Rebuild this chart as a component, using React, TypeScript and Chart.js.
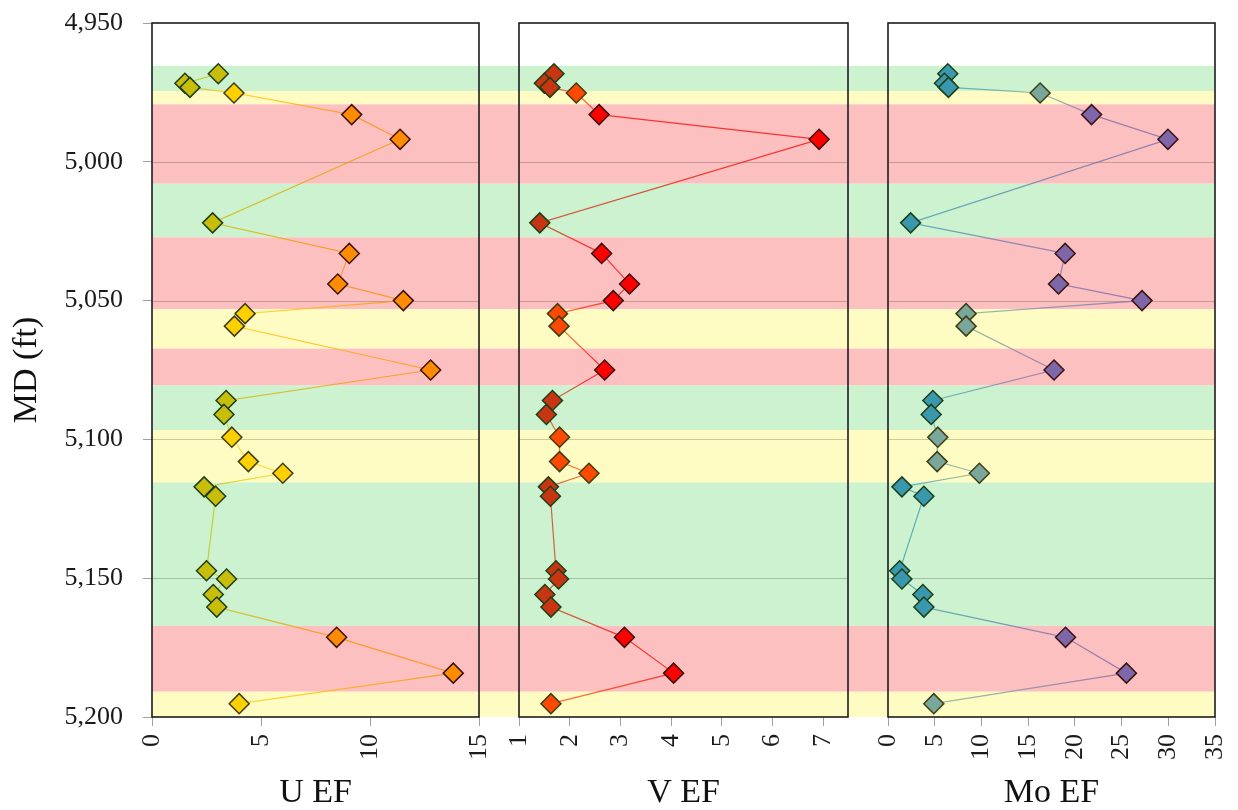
import React, { useEffect, useRef } from 'react';
import { Chart, registerables } from 'chart.js';

Chart.register(...registerables);

// ---- data ----
const depthFt = [4968.3, 4971.7, 4973.2, 4975.2, 4983.0, 4991.9, 5022.0, 5033.0, 5044.0, 5050.0, 5054.7, 5059.2, 5075.0, 5086.0, 5091.0, 5099.2, 5108.0, 5112.2, 5117.1, 5120.5, 5147.3, 5150.3, 5155.9, 5160.4, 5171.3, 5184.2, 5195.2];
const uEF = [3.04, 1.51, 1.74, 3.76, 9.16, 11.38, 2.78, 9.05, 8.52, 11.53, 4.27, 3.78, 12.78, 3.4, 3.3, 3.66, 4.42, 6.0, 2.39, 2.92, 2.5, 3.42, 2.81, 2.97, 8.47, 13.82, 4.0];
const vEF = [1.69, 1.5, 1.61, 2.13, 2.58, 6.92, 1.41, 2.63, 3.18, 2.86, 1.76, 1.79, 2.69, 1.66, 1.54, 1.8, 1.8, 2.38, 1.58, 1.62, 1.73, 1.78, 1.51, 1.63, 3.08, 4.05, 1.63];
const moEF = [6.4, 6.04, 6.47, 16.28, 21.79, 29.96, 2.42, 18.96, 18.25, 27.19, 8.36, 8.36, 17.77, 4.8, 4.62, 5.33, 5.26, 9.78, 1.49, 3.84, 1.25, 1.49, 3.73, 3.84, 19.0, 25.52, 4.9];

const bandTopFt = [4965.4, 4974.5, 4979.3, 5007.9, 5027.2, 5053.1, 5067.3, 5080.6, 5096.6, 5115.5, 5167.2, 5190.9];
const bandBottomFt = [4974.5, 4979.3, 5007.9, 5027.2, 5053.1, 5067.3, 5080.6, 5096.6, 5115.5, 5167.2, 5190.9, 5200];
const bandZone = ['green', 'yellow', 'red', 'green', 'red', 'yellow', 'red', 'green', 'yellow', 'green', 'red', 'yellow'];

const panelTitles = ['U EF', 'V EF', 'Mo EF'];
const depthMin = 4950;
const depthMax = 5200;

// ---- styles ----
const FONT = "'Liberation Serif', 'Times New Roman', serif";
const bandColors: Record<string, string> = { green: '#cdf2cf', yellow: '#fffcc3', red: '#fcc0c0' };
const zoneBorder: Record<string, string> = { green: '#1d3f17', yellow: '#3d3d14', red: '#3b1212' };
const panelColors: Record<string, string>[] = [
  { green: '#c8bd0a', yellow: '#ffd000', red: '#ff8c00' },
  { green: '#c83512', yellow: '#ff4800', red: '#ff0000' },
  { green: '#3a98ae', yellow: '#79a79b', red: '#7d67a8' },
];

function zoneOf(d: number): string {
  for (let i = 0; i < bandTopFt.length; i++) {
    if (d >= bandTopFt[i] && d < bandBottomFt[i]) return bandZone[i];
  }
  return 'green';
}

function rgba(hex: string, a: number): string {
  const n = parseInt(hex.slice(1), 16);
  return `rgba(${(n >> 16) & 255},${(n >> 8) & 255},${n & 255},${a})`;
}

const panelAxisIds = ['xU', 'xV', 'xMo'];

const backdropPlugin = {
  id: 'backdrop',
  beforeDatasetsDraw(chart: any) {
    const { ctx, chartArea: a, scales } = chart;
    const y = scales.y;
    ctx.save();
    for (let i = 0; i < bandTopFt.length; i++) {
      const y0 = y.getPixelForValue(bandTopFt[i]);
      const y1 = y.getPixelForValue(bandBottomFt[i]);
      ctx.fillStyle = bandColors[bandZone[i]];
      ctx.fillRect(a.left, y0, a.right - a.left, y1 - y0);
    }
    panelAxisIds.forEach((id) => {
      const s = scales[id];
      ctx.strokeStyle = 'rgba(0,0,0,0.2)';
      ctx.lineWidth = 1;
      y.ticks.forEach((t: any) => {
        if (t.value <= y.min || t.value >= y.max) return;
        const py = Math.round(y.getPixelForValue(t.value)) + 0.5;
        ctx.beginPath();
        ctx.moveTo(s.left, py);
        ctx.lineTo(s.right, py);
        ctx.stroke();
      });
      ctx.strokeStyle = '#1c1c1c';
      ctx.lineWidth = 1.6;
      ctx.strokeRect(s.left, a.top, s.right - s.left, a.bottom - a.top);
    });
    ctx.restore();
  },
};

function xAxis(min: number, max: number, step: number, title: string, weight: number) {
  return {
    type: 'linear',
    position: 'bottom',
    stack: 'panels',
    stackWeight: weight,
    min,
    max,
    ticks: {
      stepSize: step,
      includeBounds: false,
      autoSkip: false,
      minRotation: 90,
      maxRotation: 90,
      font: { family: FONT, size: 26 },
      color: '#1a1a1a',
      padding: 8,
    },
    afterBuildTicks: (s: any) => {
      s.ticks = s.ticks.filter((t: any) => Math.abs(t.value / step - Math.round(t.value / step)) < 1e-6);
    },
    grid: { drawOnChartArea: false, drawTicks: true, tickLength: 9, color: '#a0a0a0' },
    border: { display: false },
    title: {
      display: true,
      text: title,
      font: { family: FONT, size: 34, lineHeight: 1 },
      color: '#111111',
      padding: { top: 0, bottom: 0 },
    },
    afterFit: (s: any) => {
      s.height = 93;
      s.paddingLeft = 0;
      s.paddingRight = 0;
    },
  };
}

function gapAxis(weight: number) {
  return {
    type: 'linear',
    position: 'bottom',
    stack: 'panels',
    stackWeight: weight,
    min: 0,
    max: 1,
    ticks: { display: false },
    grid: { display: false },
    border: { display: false },
    afterFit: (s: any) => {
      s.paddingLeft = 0;
      s.paddingRight = 0;
    },
  };
}

export default function App() {
  const ref = useRef<HTMLCanvasElement | null>(null);

  useEffect(() => {
    if (!ref.current) return;
    const series = [uEF, vEF, moEF];
    const zones = depthFt.map(zoneOf);
    const datasets = series.map((vals, p) => {
      const colors = panelColors[p];
      return {
        label: panelTitles[p],
        data: depthFt.map((d, i) => ({ x: vals[i], y: d })),
        xAxisID: panelAxisIds[p],
        yAxisID: 'y',
        showLine: true,
        fill: false,
        tension: 0,
        clip: false,
        pointStyle: 'rectRot',
        pointRadius: 10,
        pointBorderWidth: 1.5,
        pointBackgroundColor: zones.map((z) => colors[z]),
        pointBorderColor: zones.map((z) => zoneBorder[z]),
        borderWidth: 1.2,
        borderColor: rgba(colors.red, 0.75),
        segment: {
          borderColor: (c: any) => {
            const c0 = rgba(colors[zones[c.p0DataIndex]], 0.75);
            const c1 = rgba(colors[zones[c.p1DataIndex]], 0.75);
            const { p0, p1 } = c;
            if (![p0.x, p0.y, p1.x, p1.y].every((v) => Number.isFinite(v))) return c0;
            const g = c.chart.ctx.createLinearGradient(p0.x, p0.y, p1.x, p1.y);
            g.addColorStop(0, c0);
            g.addColorStop(1, c1);
            return g;
          },
          borderDashOffset: (c: any) => c.p0DataIndex * 0.01,
        },
      };
    });

    const chart = new Chart(ref.current, {
      type: 'line',
      data: { datasets } as any,
      options: {
        animation: false,
        responsive: false,
        events: [],
        layout: { padding: { top: 23, right: 23, left: 0, bottom: 0 } },
        plugins: { legend: { display: false }, tooltip: { enabled: false } },
        scales: {
          y: {
            type: 'linear',
            position: 'left',
            reverse: true,
            min: depthMin,
            max: depthMax,
            ticks: { stepSize: 50, font: { family: FONT, size: 26 }, color: '#1a1a1a', padding: 20 },
            grid: { drawOnChartArea: false, drawTicks: true, tickLength: 9, color: '#a0a0a0' },
            border: { display: false },
            title: {
              display: true,
              text: 'MD (ft)',
              font: { family: FONT, size: 34, lineHeight: 1 },
              color: '#111111',
              padding: { top: 10, bottom: 0 },
            },
            afterFit: (s: any) => {
              s.width = 152;
              s.paddingTop = 0;
              s.paddingBottom = 0;
            },
          },
          xU: xAxis(0, 15, 5, panelTitles[0], 327),
          gap1: gapAxis(40),
          xV: xAxis(1, 7.49, 1, panelTitles[1], 329),
          gap2: gapAxis(40),
          xMo: xAxis(0, 35, 5, panelTitles[2], 327),
        } as any,
      },
      plugins: [backdropPlugin],
    });
    return () => chart.destroy();
  }, []);

  return (
    <canvas
      ref={ref}
      width={1238}
      height={810}
      style={{ position: 'fixed', left: 0, top: 0, width: 1238, height: 810, display: 'block', background: '#ffffff' }}
    />
  );
}
